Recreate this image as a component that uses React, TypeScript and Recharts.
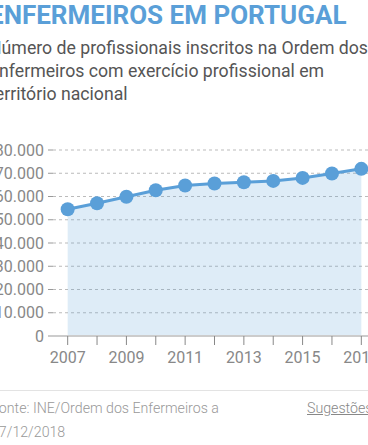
import { ComposedChart, Area, XAxis, YAxis, CartesianGrid } from 'recharts'

const BLUE = '#5a9fd8'
const GRAY_TEXT = '#888'

const years = [2007, 2008, 2009, 2010, 2011, 2012, 2013, 2014, 2015, 2016, 2017]
const nurses = [54500, 57100, 59900, 62700, 64700, 65600, 66100, 66700, 68000, 69900, 71900]
const yTicks = [0, 10000, 20000, 30000, 40000, 50000, 60000, 70000, 80000]
const labelledYears = [2007, 2009, 2011, 2013, 2015, 2017]

const data = years.map((year, i) => ({ year, value: nurses[i] }))

// separador de milhares à portuguesa (ponto)
const fmtThousands = (v: number) => String(v).replace(/\B(?=(\d{3})+(?!\d))/g, '.')

export default function App() {
  return (
    <div
      style={{
        position: 'fixed',
        left: 0,
        top: 0,
        width: 368,
        height: 445,
        overflow: 'hidden',
        background: '#fff',
        fontFamily: 'Roboto, sans-serif',
      }}
    >
      <div
        style={{
          position: 'absolute',
          left: -11,
          top: 0,
          whiteSpace: 'nowrap',
          fontSize: 26,
          fontWeight: 700,
          color: BLUE,
          lineHeight: '30px',
        }}
      >
        ENFERMEIROS EM PORTUGAL
      </div>
      <div
        style={{
          position: 'absolute',
          left: -11,
          top: 37,
          width: 400,
          fontSize: 17.7,
          fontWeight: 400,
          color: '#555',
          lineHeight: '23px',
        }}
      >
        Número de profissionais inscritos na Ordem dos
        <br />
        Enfermeiros com exercício profissional em
        <br />
        território nacional
      </div>

      <div style={{ position: 'absolute', left: -11, top: 140 }}>
        <ComposedChart width={387} height={230} data={data} margin={{ top: 10, right: 0, bottom: 0, left: 0 }}>
          <CartesianGrid horizontal vertical={false} stroke="#bbb" strokeDasharray="3 3" />
          <XAxis
            dataKey="year"
            type="number"
            domain={[2006.5, 2017.5]}
            ticks={years}
            interval={0}
            tickFormatter={(v: number) => (labelledYears.includes(v) ? String(v) : '')}
            tick={{ fontSize: 16, fill: GRAY_TEXT }}
            tickSize={9}
            tickMargin={7}
            tickLine={{ stroke: '#888' }}
            axisLine={{ stroke: '#ccc', strokeWidth: 2 }}
            height={34}
          />
          <YAxis
            domain={[0, 80000]}
            ticks={yTicks}
            tickFormatter={fmtThousands}
            tick={{ fontSize: 16, fill: GRAY_TEXT }}
            tickSize={5}
            tickMargin={4}
            tickLine={{ stroke: '#999' }}
            axisLine={false}
            width={64}
          />
          <Area
            type="linear"
            dataKey="value"
            stroke={BLUE}
            strokeWidth={3}
            fill={BLUE}
            fillOpacity={0.2}
            dot={{ r: 7, fill: BLUE, fillOpacity: 1, stroke: 'none' }}
            activeDot={false}
            isAnimationActive={false}
          />
        </ComposedChart>
      </div>

      <div style={{ position: 'absolute', left: 0, top: 390, width: 368, height: 1, background: '#e3e3e3' }} />
      <div
        style={{
          position: 'absolute',
          left: -9,
          top: 396,
          width: 240,
          fontSize: 14.2,
          fontWeight: 300,
          color: '#999',
          lineHeight: '24px',
        }}
      >
        Fonte: INE/Ordem dos Enfermeiros a 27/12/2018
      </div>
      <div
        style={{
          position: 'absolute',
          left: 307,
          top: 396,
          fontSize: 14.2,
          fontWeight: 300,
          color: '#888',
          lineHeight: '24px',
          textDecoration: 'underline',
          whiteSpace: 'nowrap',
        }}
      >
        Sugestões
      </div>
    </div>
  )
}
